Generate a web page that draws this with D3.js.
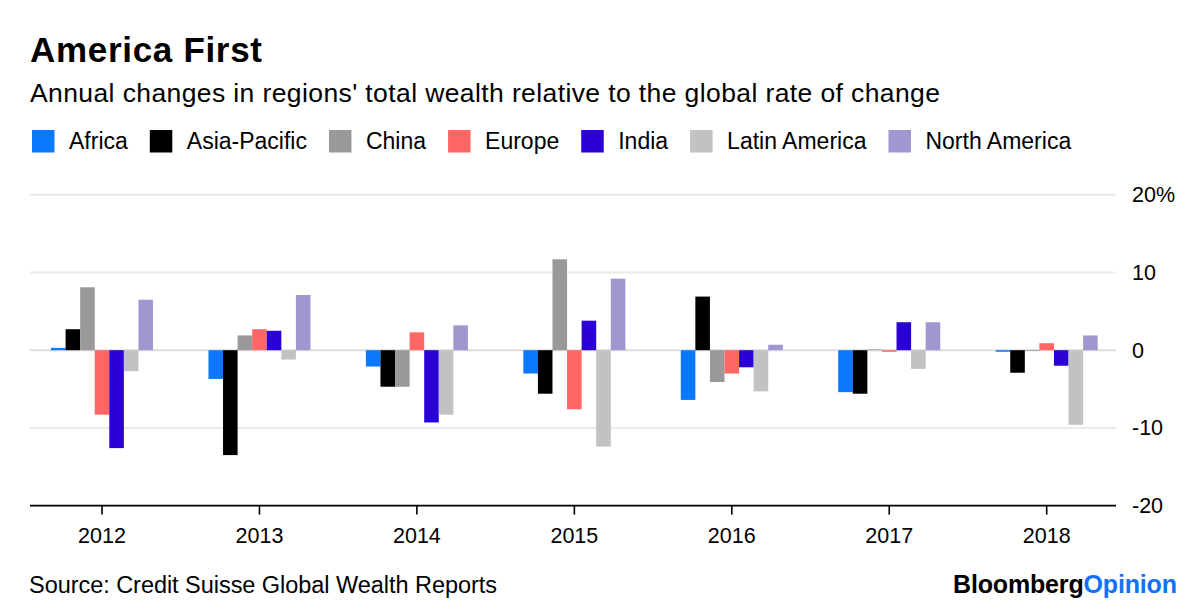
<!DOCTYPE html>
<html>
<head>
<meta charset="utf-8">
<script src="https://cdn.jsdelivr.net/npm/d3@7"></script>
<style>
  html, body { margin: 0; padding: 0; background: #fff; }
  svg { display: block; font-family: "Liberation Sans", Arial, Helvetica, sans-serif; }
</style>
</head>
<body>
<svg id="chart" width="1200" height="614"></svg>
<script>
// ---- Data ----
const years = ["2012", "2013", "2014", "2015", "2016", "2017", "2018"];
const regions = ["Africa", "Asia-Pacific", "China", "Europe", "India", "Latin America", "North America"];
const regionColors = ["#0a78ff", "#000000", "#999999", "#ff6666", "#2a00d6", "#c2c2c2", "#a096d0"];

const africa       = [0.3, -3.7, -2.1, -3.0, -6.4, -5.4, -0.2];
const asiaPacific  = [2.7, -13.5, -4.7, -5.6, 6.9, -5.6, -2.9];
const china        = [8.1, 1.9, -4.7, 11.7, -4.1, 0.1, -0.1];
const europe       = [-8.3, 2.7, 2.3, -7.6, -3.0, -0.2, 0.9];
const india        = [-12.6, 2.5, -9.3, 3.8, -2.2, 3.6, -2.0];
const latinAmerica = [-2.7, -1.2, -8.3, -12.4, -5.3, -2.4, -9.6];
const northAmerica = [6.5, 7.1, 3.2, 9.2, 0.7, 3.6, 1.9];

const yTicks = [-20, -10, 0, 10, 20];
const yTickLabels = ["-20", "-10", "0", "10", "20%"];

const seriesValues = [africa, asiaPacific, china, europe, india, latinAmerica, northAmerica];

// ---- Helpers ----
function fitWidth(sel, target) {
  const node = sel.node();
  const n = node.getNumberOfChars();
  const len = node.getComputedTextLength();
  if (n > 1) sel.attr("letter-spacing", (target - len) / (n - 1));
  return sel;
}

// ---- Layout ----
const svg = d3.select("#chart");
const plotLeft = 30, plotRight = 1116;

const x = d3.scaleBand().domain(years).range([23.3, 1125.4]).paddingInner(0.352).paddingOuter(0.176);
const xInner = d3.scaleBand().domain(regions).range([0, x.bandwidth()]);
const y = d3.scaleLinear().domain([-20, 20]).range([505.6, 194.8]);

// Title / subtitle
fitWidth(svg.append("text").attr("x", 30).attr("y", 62)
  .attr("font-size", 35).attr("font-weight", "bold")
  .attr("fill", "#000").text("America First"), 232);
fitWidth(svg.append("text").attr("x", 30).attr("y", 102)
  .attr("font-size", 26.5).attr("fill", "#000")
  .text("Annual changes in regions' total wealth relative to the global rate of change"), 910);

// Legend
const legend = svg.append("g");
let lx = 32;
regions.forEach((r, i) => {
  legend.append("rect").attr("x", lx).attr("y", 130).attr("width", 22.5).attr("height", 22.5)
    .attr("fill", regionColors[i]);
  const t = legend.append("text").attr("x", lx + 37).attr("y", 149)
    .attr("font-size", 23).attr("fill", "#000").text(r);
  lx = lx + 37 + t.node().getComputedTextLength() + 22;
});

// Gridlines
svg.append("g").selectAll("line").data(yTicks.filter(d => d !== -20)).join("line")
  .attr("x1", plotLeft).attr("x2", plotRight)
  .attr("y1", d => y(d)).attr("y2", d => y(d))
  .attr("stroke", d => d === 0 ? "#dcdcdc" : "#ebebeb").attr("stroke-width", 2);

// Bars
const groups = svg.append("g").selectAll("g").data(years).join("g")
  .attr("transform", d => `translate(${x(d)},0)`);
groups.selectAll("rect")
  .data((yr, yi) => regions.map((r, ri) => ({ region: r, value: seriesValues[ri][yi], color: regionColors[ri] })))
  .join("rect")
  .attr("x", d => xInner(d.region))
  .attr("width", xInner.bandwidth())
  .attr("y", d => y(Math.max(0, d.value)))
  .attr("height", d => Math.abs(y(d.value) - y(0)))
  .attr("fill", d => d.color);

// X axis
const xAxis = d3.axisBottom(x).tickSize(9).tickSizeOuter(0).tickPadding(13);
const gx = svg.append("g").attr("transform", `translate(0,${y(-20)})`).call(xAxis);
gx.select(".domain").remove();
gx.append("line").attr("x1", plotLeft).attr("x2", plotRight).attr("y1", 0).attr("y2", 0)
  .attr("stroke", "#000").attr("stroke-width", 1.6);
gx.selectAll(".tick line").attr("stroke", "#000").attr("stroke-width", 1.6);
gx.selectAll(".tick text").attr("font-size", 21.5).attr("fill", "#000")
  .attr("font-family", "'Liberation Sans', Arial, Helvetica, sans-serif");

// Y axis labels (right side)
const yAxis = d3.axisRight(y).tickValues(yTicks).tickSize(0).tickPadding(0)
  .tickFormat((d, i) => yTickLabels[i]);
const gy = svg.append("g").attr("transform", `translate(1132,0)`).call(yAxis);
gy.select(".domain").remove();
gy.selectAll(".tick text").attr("font-size", 21.5).attr("fill", "#000").attr("text-anchor", "start")
  .attr("font-family", "'Liberation Sans', Arial, Helvetica, sans-serif");

// Footer
fitWidth(svg.append("text").attr("x", 29).attr("y", 593)
  .attr("font-size", 23.5).attr("fill", "#000")
  .text("Source: Credit Suisse Global Wealth Reports"), 468);
const logo = svg.append("text").attr("x", 953).attr("y", 593)
  .attr("font-size", 25).attr("font-weight", "bold");
logo.append("tspan").attr("fill", "#000").text("Bloomberg");
logo.append("tspan").attr("fill", "#1470f5").text("Opinion");
fitWidth(logo, 224);
</script>
</body>
</html>
